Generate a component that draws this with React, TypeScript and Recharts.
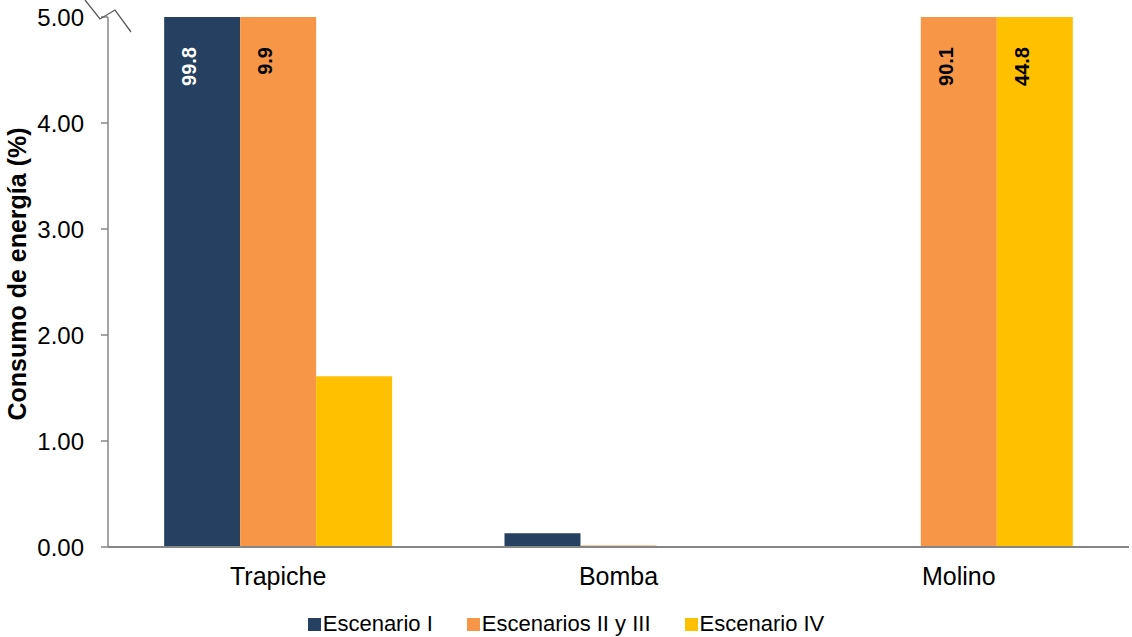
import { Bar, BarChart, LabelList, Legend, XAxis, YAxis } from "recharts";

const categories = ["Trapiche", "Bomba", "Molino"];
const escenarioI = [99.8, 0.13, 0];
const escenariosIIyIII = [9.9, 0.015, 90.1];
const escenarioIV = [1.61, 0, 44.8];
const yTicks = [0, 1, 2, 3, 4, 5];
const Y_MAX = 5;

const FONT = "'Liberation Sans', Arial, sans-serif";

const series = [
  { key: "e1", name: "Escenario I", color: "#254061", labelColor: "#ffffff", values: escenarioI },
  { key: "e23", name: "Escenarios II y III", color: "#F79646", labelColor: "#000000", values: escenariosIIyIII },
  { key: "e4", name: "Escenario IV", color: "#FFC000", labelColor: "#000000", values: escenarioIV },
];

// bars are cut at the axis max (axis break), the real value is kept for the label
const data = categories.map((name, i) => {
  const row: Record<string, string | number> = { name };
  series.forEach((s) => {
    row[s.key] = Math.min(s.values[i], Y_MAX);
    row[`${s.key}Raw`] = s.values[i];
  });
  return row;
});

function makeBreakLabel(fill: string) {
  return (props: any) => {
    const vb = props.viewBox ?? props;
    const { x, y, width } = vb;
    const value = Number(props.value);
    if (!(value > Y_MAX)) return null;
    const tx = x + width / 2 - 6;
    const ty = y + 30;
    return (
      <text
        x={tx}
        y={ty}
        transform={`rotate(-90 ${tx} ${ty})`}
        textAnchor="end"
        fill={fill}
        fontSize={20}
        fontWeight="bold"
        fontFamily={FONT}
      >
        {value.toFixed(1)}
      </text>
    );
  };
}

function YLabel(props: any) {
  const vb = props.viewBox ?? { x: 0, y: 17, height: 530 };
  const cx = vb.x + 17;
  const cy = vb.y + vb.height / 2 - 8;
  return (
    <text
      x={cx}
      y={cy}
      transform={`rotate(-90 ${cx} ${cy})`}
      textAnchor="middle"
      dominantBaseline="central"
      fontSize={25}
      fontWeight="bold"
      fontFamily={FONT}
      fill="#000"
    >
      Consumo de energía (%)
    </text>
  );
}

function LegendContent() {
  return (
    <div
      style={{
        height: 30,
        display: "flex",
        justifyContent: "center",
        alignItems: "center",
        fontFamily: FONT,
        fontSize: 22,
        color: "#000",
      }}
    >
      {series.map((s, i) => (
        <div key={s.key} style={{ display: "flex", alignItems: "center", marginLeft: i === 0 ? 0 : 34 }}>
          <span style={{ width: 13, height: 13, background: s.color, marginRight: 2, display: "inline-block" }} />
          <span>{s.name}</span>
        </div>
      ))}
    </div>
  );
}

export default function App() {
  return (
    <div style={{ position: "absolute", left: 0, top: 0, width: 1132, height: 637, background: "#fff" }}>
      <BarChart
        width={1132}
        height={637}
        data={data}
        margin={{ top: 17, right: 3, left: 0, bottom: 0 }}
        barCategoryGap="16.5%"
        barGap={0}
      >
        <XAxis
          dataKey="name"
          axisLine={{ stroke: "#868686", strokeWidth: 2 }}
          tickLine={false}
          tickSize={0}
          tickMargin={20}
          height={60}
          tick={{ fontSize: 25, fill: "#000", fontFamily: FONT }}
        />
        <YAxis
          domain={[0, Y_MAX]}
          ticks={yTicks}
          allowDataOverflow
          tickFormatter={(v: number) => v.toFixed(2)}
          axisLine={{ stroke: "#868686", strokeWidth: 1.5 }}
          tickLine={{ stroke: "#868686", strokeWidth: 1.5 }}
          tickSize={7}
          tickMargin={17}
          width={108}
          tick={{ fontSize: 24, fill: "#000", fontFamily: FONT }}
          label={{ content: YLabel }}
        />
        <Legend
          verticalAlign="bottom"
          wrapperStyle={{ top: 609, left: 0, width: 1132 }}
          content={() => <LegendContent />}
        />
        {series.map((s) => (
          <Bar key={s.key} dataKey={s.key} name={s.name} fill={s.color} isAnimationActive={false}>
            <LabelList dataKey={`${s.key}Raw`} content={makeBreakLabel(s.labelColor)} />
          </Bar>
        ))}
      </BarChart>
      <svg
        width={140}
        height={40}
        style={{ position: "absolute", left: 0, top: 0, pointerEvents: "none" }}
      >
        <polyline points="85,0 100,19 115,10 131,32" fill="none" stroke="#595959" strokeWidth={1.3} />
      </svg>
    </div>
  );
}
